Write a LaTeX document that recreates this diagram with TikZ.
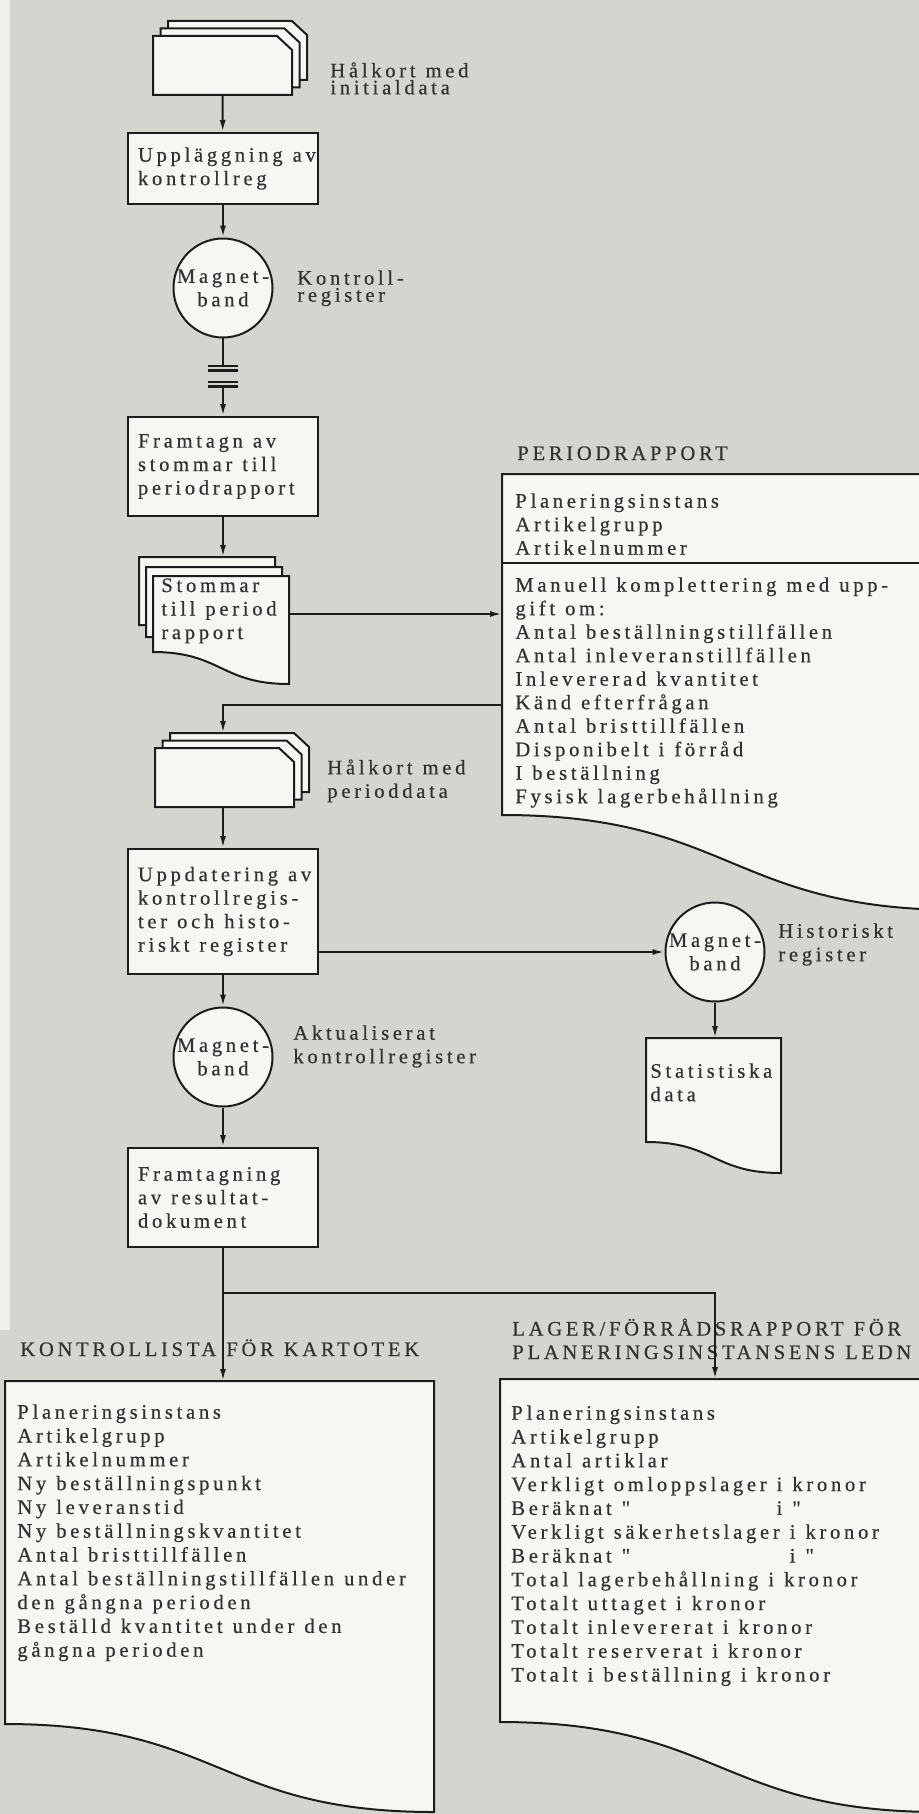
\documentclass[tikz,border=0pt]{standalone}
\usepackage{fontspec}
\setmainfont{Liberation Serif}[LetterSpace=18, FakeBold=0.5]
\usetikzlibrary{arrows.meta}

\definecolor{paper}{RGB}{213,213,208}
\definecolor{sheet}{RGB}{246,246,243}
\definecolor{ink}{RGB}{28,28,28}
\definecolor{typeink}{RGB}{50,50,50}

\newcommand{\flowfont}{\fontsize{10.3}{11.75}\selectfont\spaceskip=5pt\relax}
\newcommand{\tightfont}{\fontsize{10.3}{8.5}\selectfont\spaceskip=5pt\relax}
\newcommand{\listfont}{\fontsize{10.3}{11.9}\selectfont\spaceskip=5pt\relax}
\newcommand{\wsp}{\nobreak\hspace{5pt}}
\newcommand{\ditto}{\textquotedbl}

% stack of punched cards, front card top left at (#1,#2)
\newcommand{\cardstack}[2]{%
  \foreach \d in {15,7.5,0}
    \filldraw[sheetline] (#1+\d,#2-\d) -- ++(124,0) -- ++(15,14) -- ++(0,45) -- ++(-139,0) -- cycle;}
% document sheet: left, top, right, lower left y, lower right y
\newcommand{\docsheet}[5]{%
  \filldraw[sheetline] (#1,#4) -- (#1,#2) -- (#3,#2) -- (#3,#5)
    .. controls ({(#1+#3)/2},#5) and ({(#1+#3)/2},#4) .. cycle;}

\begin{document}
\begin{tikzpicture}[x=0.5pt, y=-0.5pt,
  sheetline/.style={draw=ink, fill=sheet, line width=1pt},
  procbox/.style={rectangle, draw=ink, fill=sheet, line width=1pt, minimum width=95pt,
    text width=85pt, inner xsep=0pt, align=left, font=\flowfont, text=typeink},
  tapedisk/.style={circle, draw=ink, fill=sheet, line width=1pt, minimum size=46pt,
    inner sep=0pt, align=center, font=\flowfont, text=typeink},
  lbl/.style={inner sep=0pt, align=left, font=\flowfont, text=typeink},
  arr/.style={-{Latex[length=6pt,width=3pt]}, line width=1pt, draw=ink},
  conn/.style={line width=1pt, draw=ink},
  linkbar/.style={line width=1.1pt, draw=ink}
]
\useasboundingbox (0,0) rectangle (919,1814);
\clip (0,0) rectangle (919,1814);
\fill[paper] (0,0) rectangle (919,1814);
\fill[paper!35!white] (0,0) rectangle (10,1330);

% initial data and control register
\cardstack{153}{36}
\coordinate (cards1) at (222.5,95);
\node[lbl, font=\tightfont, anchor=north west] (cards1lbl) at (330,62) {Hålkort med\\initialdata};
\node[procbox, minimum height=35.5pt] (upplagg) at (223,168.5) {Uppläggning\wsp av\\kontrollreg};
\node[tapedisk] (band1) at (223,288) {Magnet-\\band};
\node[lbl, font=\tightfont, anchor=north west] (band1lbl) at (297,270) {Kontroll-\\register};
\coordinate (brk-a) at (223,366);
\coordinate (brk-b) at (223,386.5);

\node[procbox, minimum height=49.5pt] (framtagn) at (223,466.5) {Framtagn\wsp av\\stommar\wsp till\\periodrapport};

% report skeletons
\docsheet{139}{557}{275}{625}{657}
\docsheet{146}{567}{282}{637}{669}
\docsheet{153}{576}{289}{652}{684}
\coordinate (stommar-top) at (223,557);
\coordinate (stommar-e) at (289,614);
\node[lbl, anchor=north west] (stommartxt) at (161,578) {Stommar\\till period\\rapport};

% period report
\node[lbl, anchor=base west] (prtitle) at (517,460) {PERIODRAPPORT};
\docsheet{502}{474}{960}{815}{910}
\draw[conn] (502,563) -- (930,563);
\coordinate (pr-nw) at (502,474);
\coordinate (pr-w) at (502,705);
\node[lbl, anchor=north west] (prhead) at (515,493) {Planeringsinstans\\Artikelgrupp\\Artikelnummer};
\node[lbl, anchor=north west] (prbody) at (515,577) {Manuell komplettering med upp-\\gift om:\\Antal beställningstillfällen\\Antal inleveranstillfällen\\Inlevererad kvantitet\\Känd efterfrågan\\Antal bristtillfällen\\Disponibelt i förråd\\I beställning\\Fysisk lagerbehållning};

% period data and update
\cardstack{155}{748}
\coordinate (cards2-top) at (223,733);
\coordinate (cards2) at (223,807);
\node[lbl, anchor=north west] (cards2lbl) at (327,759) {Hålkort med\\perioddata};
\node[procbox, minimum height=62.5pt] (uppdat) at (223,911.5) {Uppdatering\wsp av\\kontrollregis-\\ter\wsp och\wsp histo-\\riskt\wsp register};
\node[tapedisk] (band2) at (223,1057) {Magnet-\\band};
\node[lbl, anchor=north west] (band2lbl) at (293,1025) {Aktualiserat\\kontrollregister};
\node[procbox, minimum height=49.5pt] (framtagning) at (223,1197.5) {Framtagning\\av\wsp resultat-\\dokument};

% history register
\node[tapedisk] (band3) at (715,952) {Magnet-\\band};
\node[lbl, anchor=north west] (band3lbl) at (778,923) {Historiskt\\register};
\docsheet{646}{1038}{781}{1142}{1173}
\coordinate (stat-top) at (715,1038);
\node[lbl, anchor=north west] (stattxt) at (650,1063) {Statistiska\\data};

% result documents
\coordinate (split) at (223,1293);
\node[lbl, anchor=base west] (kltitle) at (20,1356) {KONTROLLISTA FÖR KARTOTEK};
\docsheet{5}{1381}{434}{1724}{1812}
\coordinate (kl-top) at (223,1381);
\node[lbl, font=\listfont, anchor=north west] (kltxt) at (17,1404) {Planeringsinstans\\Artikelgrupp\\Artikelnummer\\Ny beställningspunkt\\Ny leveranstid\\Ny beställningskvantitet\\Antal bristtillfällen\\Antal beställningstillfällen under\\den gångna perioden\\Beställd kvantitet under den\\gångna perioden};

\node[lbl, anchor=base west] (lftitle) at (512,1359) {LAGER/FÖRRÅDSRAPPORT FÖR\\PLANERINGSINSTANSENS LEDN};
\docsheet{500}{1379}{940}{1722}{1812}
\coordinate (lf-top) at (715,1379);
\node[lbl, font=\listfont, anchor=north west] (lftxt) at (511,1405) {Planeringsinstans\\Artikelgrupp\\Antal artiklar\\Verkligt omloppslager i kronor\\\rlap{Beräknat \ditto}\hphantom{Verkligt omloppslager }i \ditto\\Verkligt säkerhetslager i kronor\\\rlap{Beräknat \ditto}\hphantom{Verkligt säkerhetslager }i \ditto\\Total lagerbehållning i kronor\\Totalt uttaget i kronor\\Totalt inlevererat i kronor\\Totalt reserverat i kronor\\Totalt i beställning i kronor};

% connectors
\draw[arr] (cards1) -- (upplagg);
\draw[arr] (upplagg) -- (band1);
\draw[conn] (band1) -- (brk-a);
\foreach \y in {366,370.5,382,386.5}
  \draw[linkbar] (208,\y) -- (238,\y);
\draw[arr] (brk-b) -- (framtagn);
\draw[arr] (framtagn) -- (stommar-top);
\draw[arr] (stommar-e) -- (stommar-e -| pr-nw);
\draw[arr] (pr-w) -| (cards2-top);
\draw[arr] (cards2) -- (uppdat);
\draw[arr] (uppdat.east |- band3) -- (band3);
\draw[arr] (uppdat) -- (band2);
\draw[arr] (band2) -- (framtagning);
\draw[arr] (band3) -- (stat-top);
\draw[arr] (framtagning) -- (kl-top);
\draw[arr] (split) -| (lf-top);

\end{tikzpicture}
\end{document}
